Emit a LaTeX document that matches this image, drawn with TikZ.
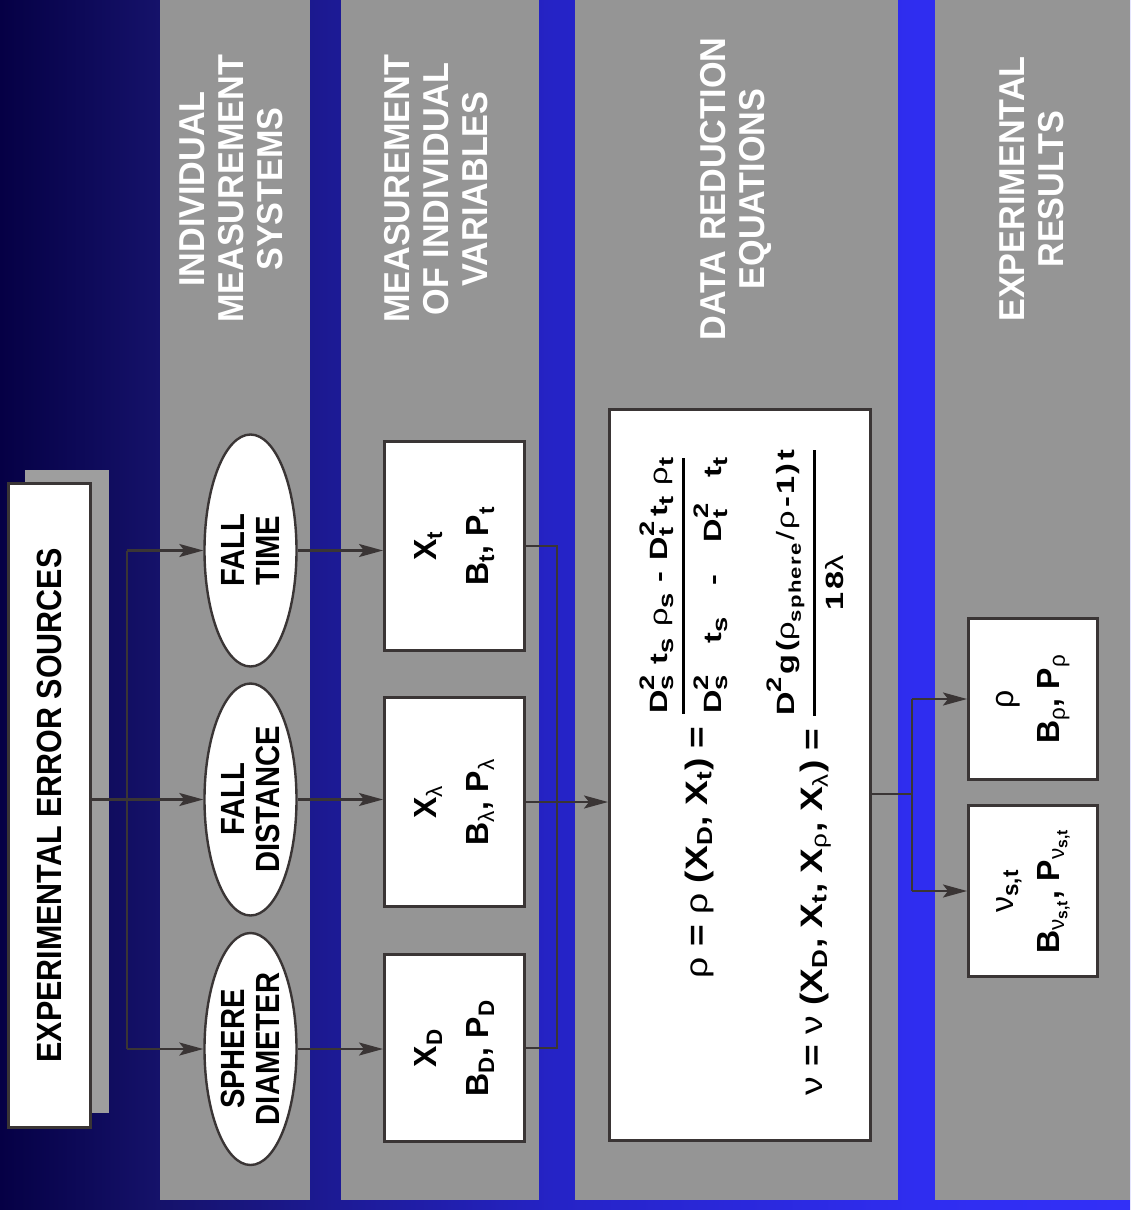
\documentclass[tikz,border=0pt]{standalone}
\usepackage{amsmath}
\usepackage{fontspec}
\setmainfont{Liberation Sans}
\newfontfamily\narrowsf{Liberation Sans}[FakeStretch=0.87]
\newfontfamily\headsf{Liberation Sans}[FakeStretch=0.95]
\newfontfamily\eqsf{Liberation Sans}[FakeStretch=1.2]
\newfontfamily\widesf{Liberation Sans}[FakeStretch=1.3,LetterSpace=8]
\usetikzlibrary{arrows.meta,shapes.geometric,calc}
\definecolor{panel}{RGB}{149,149,149}
\definecolor{shadowgray}{RGB}{158,158,158}
\definecolor{edge}{RGB}{58,53,53}
\pgfdeclarehorizontalshading{backdrop}{100bp}{rgb(0bp)=(0.02,0,0.27);
  rgb(25bp)=(0.02,0,0.27); rgb(32bp)=(0.082,0.07,0.415);
  rgb(39.5bp)=(0.11,0.1,0.576); rgb(49.5bp)=(0.145,0.137,0.776);
  rgb(65.5bp)=(0.184,0.176,0.94); rgb(75bp)=(0.196,0.188,0.97);
  rgb(100bp)=(0.196,0.188,0.97)}
\newcommand\gr[1]{{\mdseries#1}}
\newcommand\low[1]{\textsubscript{#1}}
% sub- and superscripts of the fractions
\newcommand\fsub[1]{\raisebox{-3pt}{\fontsize{10.5}{12}\selectfont#1}}
\newcommand\fsubsm[1]{\raisebox{-3pt}{\fontsize{8.5}{10}\selectfont#1}}
\newcommand\fsup[1]{\raisebox{6.5pt}{\fontsize{10.5}{12}\selectfont#1}}
\newcommand\fsubsup[2]{\makebox[0pt][l]{\fsup{#2}}\fsub{#1}}
\newcommand\fracfont{\widesf\bfseries\fontsize{12.5}{14}\selectfont}
\newcommand\gap{\hspace{0pt plus 1fil}}
\newsavebox\rhonum
\tikzset{
  >={Stealth[length=12pt,width=6.5pt,inset=2.5pt]},
  head/.style={rotate=90,text=white,align=center,inner sep=0pt,
    font=\headsf\bfseries\fontsize{18}{19.5}\selectfont},
  srcbox/.style={rotate=90,draw=edge,line width=1.5pt,fill=white,inner sep=0pt,
    minimum width=322pt,minimum height=41pt,
    font=\narrowsf\bfseries\fontsize{17.5}{20}\selectfont},
  sysell/.style={ellipse,rotate=90,draw=edge,line width=1.2pt,fill=white,inner sep=0pt,
    minimum width=116pt,minimum height=46pt,align=center,
    font=\narrowsf\bfseries\fontsize{16.75}{17.5}\selectfont},
  varbox/.style={rotate=90,draw=edge,line width=1.5pt,fill=white,inner sep=0pt,
    minimum height=70pt,align=center,font=\bfseries\fontsize{16}{26}\selectfont},
  resbox/.style={varbox,minimum height=64.5pt,font=\bfseries\fontsize{16}{23}\selectfont},
  eqn/.style={rotate=90,inner sep=0pt,anchor=base east,
    font=\eqsf\bfseries\fontsize{15.5}{18}\selectfont},
  wire/.style={draw=edge,line width=1.2pt},
  flow/.style={wire,->},
}

\begin{document}
\sbox\rhonum{\makebox[128pt][s]{\fracfont
  D\fsubsup{s}{2}\gap t\fsub{s}\gap\gr{ρ}\fsub{s}\gap-\gap D\fsubsup{t}{2}\gap t\fsub{t}\gap\gr{ρ}\fsub{t}}}
\begin{tikzpicture}[x=0.5pt,y=-0.5pt]
  \useasboundingbox (0,0) rectangle (1130,1210);
  \shade[shading=backdrop] (0,0) rectangle (1130,1210);
  % columns
  \foreach \xa/\xb in {160/310,341/539,575/898,935/1130}
    \fill[panel] (\xa,0) rectangle (\xb,1200);
  \node[head] (h1) at (231,189) {INDIVIDUAL\\MEASUREMENT\\SYSTEMS};
  \node[head] (h2) at (436,189) {MEASUREMENT\\OF INDIVIDUAL\\VARIABLES};
  \node[head] (h3) at (736,189) {DATA REDUCTION\\EQUATIONS};
  \node[head] (h4) at (1032,189) {EXPERIMENTAL\\RESULTS};
  % error sources
  \fill[shadowgray] (25,470) rectangle (109,1113);
  \node[srcbox] (src) at (49.5,805.5) {EXPERIMENTAL ERROR SOURCES};
  % measurement systems
  \node[sysell] (ft) at (250.5,550.5) {FALL\\TIME};
  \node[sysell] (fd) at (250.5,799.5) {FALL\\DISTANCE};
  \node[sysell] (sd) at (250.5,1049) {SPHERE\\DIAMETER};
  % variables
  \node[varbox,minimum width=104.5pt] (xt) at (454.5,546) {X\low{t}\\B\low{t}, P\low{t}};
  \node[varbox,minimum width=104.5pt] (xl) at (454.5,802) {X\low{\gr{λ}}\\B\low{\gr{λ}}, P\low{\gr{λ}}};
  \node[varbox,minimum width=93.5pt] (xd) at (454.5,1048) {X\low{D}\\B\low{D}, P\low{D}};
  % data reduction
  \node[varbox,minimum width=365.5pt,minimum height=130.5pt] (eq) at (740,775) {};
  \node[eqn] (rhoeq) at (707,455) {\gr{ρ} = \gr{ρ} (X\low{D}, X\low{t}) =
    \raisebox{8pt}{$\genfrac{}{}{1.5pt}{0}{\usebox\rhonum}
      {\makebox[\wd\rhonum][s]{\fracfont D\fsubsup{s}{2}\gap t\fsub{s}\gap-\gap D\fsubsup{t}{2}\gap t\fsub{t}}}$}};
  \node[eqn] (nueq) at (822,447) {\gr{ν} = \gr{ν} (X\low{D}, X\low{t}, X\low{\gr{ρ}}, X\low{\gr{λ}}) =
    $\genfrac{}{}{1.5pt}{0}
      {\makebox[133pt][s]{\fracfont D\fsup{2}\gap g\gap(\gr{ρ}\fsubsm{sphere}\gap\gr{/}\gr{ρ}\gap-\gap1)\gap t}}
      {\text{\fracfont 18\gr{λ}}}$};
  % results
  \node[resbox,minimum width=80.5pt] (rho) at (1033,699) {\gr{ρ}\\B\low{\gr{ρ}}, P\low{\gr{ρ}}};
  \node[resbox,minimum width=85.5pt] (nu) at (1033,891)
    {\gr{ν}\low{s,t}\\B\low{\gr{ν}\low{s,t}}, P\low{\gr{ν}\low{s,t}}};
  % connectors
  \coordinate (trunk) at (127,800);
  \coordinate (bus) at (557,800);
  \coordinate (split) at (912,794);
  \draw[wire] (trunk |- ft) -- (trunk |- sd);
  \draw[wire] (src.south |- fd) -- (trunk |- fd);
  \foreach \n in {ft,fd,sd} \draw[flow] (trunk |- \n) -- (\n.north);
  \foreach \n/\m in {ft/xt,fd/xl,sd/xd} \draw[flow] (\n.south) -- (\m.north |- \n.south);
  \draw[wire] (xt.south) -- (bus |- xt.south) -- (bus |- xd.south) -- (xd.south);
  \draw[wire] (xl.south) -- (bus |- xl.south);
  \draw[flow] (bus |- xl.south) -- (eq.north |- xl.south);
  \draw[wire] (eq.south |- split) -- (split);
  \draw[wire] (split |- rho.north) -- (split |- nu.north);
  \draw[flow] (split |- rho.north) -- (rho.north);
  \draw[flow] (split |- nu.north) -- (nu.north);
\end{tikzpicture}
\end{document}
